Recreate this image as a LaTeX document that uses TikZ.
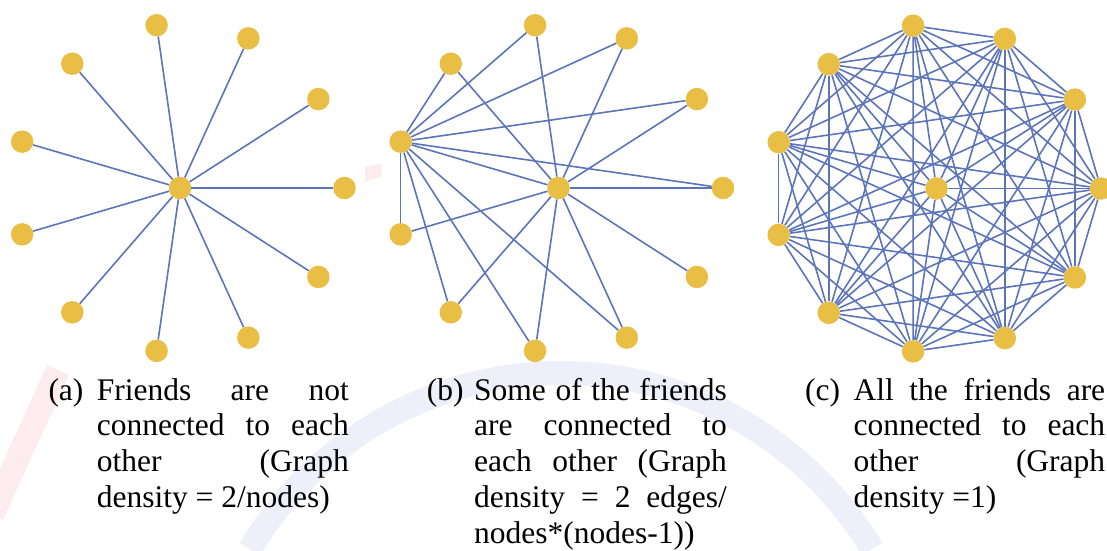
\documentclass[tikz,border=0pt]{standalone}
\usepackage{fontspec}
\setmainfont{Liberation Serif}
\usepackage{tikz}

\definecolor{friendYellow}{HTML}{E8BE45}
\definecolor{linkBlue}{HTML}{5C74B9}
\definecolor{markBlue}{HTML}{EDF0F8}
\definecolor{markPink}{HTML}{FCECEE}

\tikzset{
    friend/.style={circle, fill=friendYellow, minimum size=22.5pt, inner sep=0pt},
    link/.style={draw=linkBlue, line width=1.6pt},
    caption/.style={anchor=base west, inner sep=0pt, text width=252pt, align=justify,
        font=\fontsize{31.5}{35.8}\selectfont},
    tag/.style={anchor=base west, inner sep=0pt, font=\fontsize{31.5}{35.8}\selectfont}
}

\newcommand{\friendring}[3]{
    \begin{scope}[shift={(#1,#2)}]
        \def\ringRadius{164.5}

        % Draw the friend in the middle and name it with the third argument
        \node[friend] (#3-c) at (0,0) {};

        % Draw the eleven friends round it
        \foreach \k in {0,...,10} {
            \node[friend] (#3-\k) at ({-\k*360/11}:\ringRadius) {};
        }
    \end{scope}
}

\begin{document}
\begin{tikzpicture}[x=1pt, y=-1pt]

    \useasboundingbox (0,0) rectangle (1107,550);

    % faint marks in the background
    \begin{scope}
        \clip (0,0) rectangle (1107,550);
        \draw[markBlue, line width=24pt] (561,736) ++(-149:363) arc[start angle=-149, end angle=-31, radius=363];
        \draw[markPink, line width=24pt] (-8,515) -- (58,370);
        \fill[markPink] (365,167) -- (381.7,163.3) -- (381.7,176.7) -- (365,181.7) -- cycle;
    \end{scope}

    \friendring{180}{188}{a}
    \friendring{558.5}{188}{b}
    \friendring{936.5}{188.5}{c}

    % (a) only the middle friend knows the others
    \foreach \k in {0,...,10} {
        \draw[link] (a-c) -- (a-\k);
    }

    % (b) the middle friend and one more
    \foreach \k in {0,...,10} {
        \draw[link] (b-c) -- (b-\k);
    }
    \foreach \k in {0,1,2,3,4,6,7,8,9} {
        \draw[link] (b-5) -- (b-\k);
    }

    % (c) everybody knows everybody
    \foreach \k in {0,...,10} {
        \draw[link] (c-c) -- (c-\k);
    }
    \foreach \i in {0,...,9} {
        \pgfmathtruncatemacro{\nextK}{\i+1}
        \foreach \j in {\nextK,...,10} {
            \draw[link] (c-\i) -- (c-\j);
        }
    }

    % captions
    \node[tag] (tagA) at (48.3,400) {(a)};
    \node[caption] (capA) at (96.6,400) {Friends are not\linebreak connected to each\linebreak other (Graph\linebreak density = 2/nodes)};

    \node[tag] (tagB) at (426.7,400) {(b)};
    \node[caption, text width=252.7pt] (capB) at (474,400) {Some of the friends\linebreak are connected to\linebreak each other (Graph\linebreak density = 2 edges/\linebreak nodes*(nodes-1))};

    \node[tag] (tagC) at (805,400) {(c)};
    \node[caption, text width=251.7pt] (capC) at (853.3,400) {All the friends are\linebreak connected to each\linebreak other (Graph\linebreak density =1)};

\end{tikzpicture}
\end{document}
